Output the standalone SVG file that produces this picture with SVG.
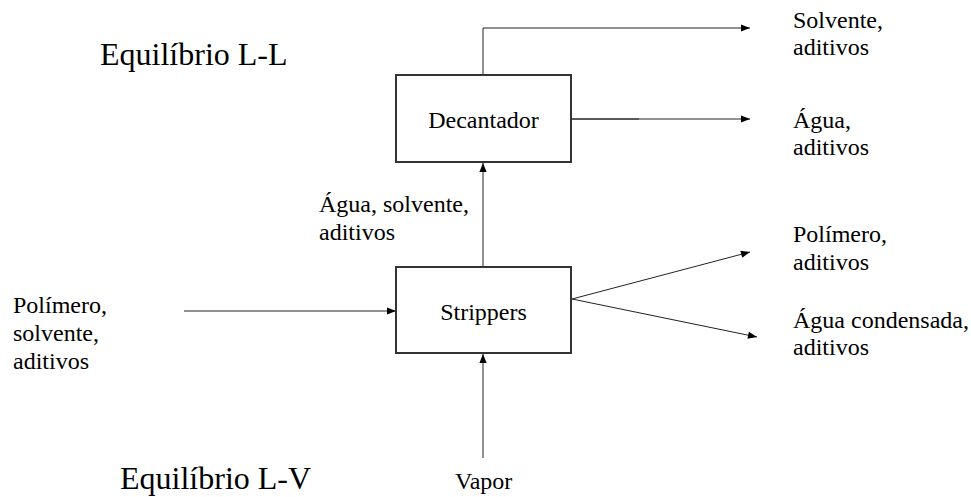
<svg xmlns="http://www.w3.org/2000/svg" width="971" height="497" viewBox="0 0 971 497">
<style>
text { font-family: "Liberation Serif", "Tinos", "Times New Roman", "DejaVu Serif", serif; fill: #000; }
.lbl { font-size: 24px; }
.title { font-size: 32px; }
.box { fill: #fff; stroke: #333; stroke-width: 2; }
.conn { fill: none; stroke: #222; stroke-width: 1; }
</style>
<defs>
<marker id="arr" viewBox="0 0 10 10" refX="10" refY="5" markerWidth="10" markerHeight="9" markerUnits="userSpaceOnUse" orient="auto">
<path d="M0,1 L10,5 L0,9 z" fill="#000"/>
</marker>
</defs>
<rect width="971" height="497" fill="#fff"/>
<g id="connectors">
<polyline class="conn" points="483,75 483,28 750,28" marker-end="url(#arr)"/>
<line class="conn" x1="571" y1="119" x2="750" y2="119" marker-end="url(#arr)"/>
<line class="conn" x1="571" y1="119" x2="639" y2="119" stroke-width="1.8"/>
<line class="conn" x1="483" y1="267" x2="483" y2="163" marker-end="url(#arr)"/>
<line class="conn" x1="184" y1="311" x2="396" y2="311" marker-end="url(#arr)"/>
<line class="conn" x1="483" y1="458" x2="483" y2="354" marker-end="url(#arr)"/>
<line class="conn" x1="572" y1="299" x2="750" y2="252" marker-end="url(#arr)"/>
<line class="conn" x1="572" y1="299" x2="757" y2="337" marker-end="url(#arr)"/>
</g>
<g id="decantador">
<rect class="box" x="396" y="75" width="175" height="87"/>
<text class="lbl" x="483.5" y="128" text-anchor="middle">Decantador</text>
</g>
<g id="strippers">
<rect class="box" x="396" y="267" width="175" height="86"/>
<text class="lbl" x="483.5" y="320" text-anchor="middle">Strippers</text>
</g>
<g id="title-ll"><text class="title" x="100" y="65">Equilíbrio L-L</text></g>
<g id="title-lv"><text class="title" x="120" y="489">Equilíbrio L-V</text></g>
<g id="in-feed"><text class="lbl" x="13" y="313">Polímero,</text><text class="lbl" x="13" y="341">solvente,</text><text class="lbl" x="13" y="369">aditivos</text></g>
<g id="in-vapor"><text class="lbl" x="455" y="489">Vapor</text></g>
<g id="mid-label"><text class="lbl" x="319" y="212">Água, solvente,</text><text class="lbl" x="319" y="240">aditivos</text></g>
<g id="out-solvente"><text class="lbl" x="793" y="28">Solvente,</text><text class="lbl" x="793" y="55">aditivos</text></g>
<g id="out-agua"><text class="lbl" x="793" y="128">Água,</text><text class="lbl" x="793" y="155">aditivos</text></g>
<g id="out-polimero"><text class="lbl" x="793" y="242">Polímero,</text><text class="lbl" x="793" y="270">aditivos</text></g>
<g id="out-condensada"><text class="lbl" x="793" y="328">Água condensada,</text><text class="lbl" x="793" y="355">aditivos</text></g>
</svg>
